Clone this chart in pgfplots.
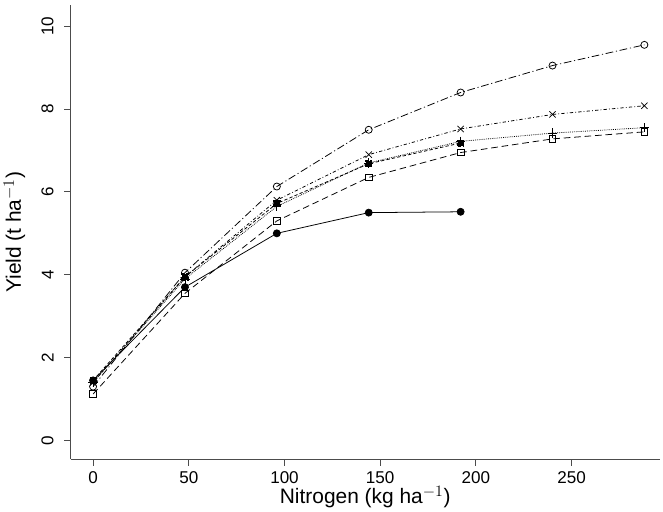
\documentclass[border=0pt]{standalone}
\usepackage{pgfplots}
\pgfplotsset{compat=1.18}
\usepackage{fontspec}
\setmainfont{Liberation Sans}
\begin{document}
\begin{tikzpicture}
\begin{axis}[
  name=ax,
  width=535pt, height=412pt, scale only axis,
  xmin=-11.7, xmax=296, ymin=-0.45, ymax=10.5,
  axis x line*=bottom, axis y line*=left,
  axis line style={-, gray!60!black, line width=0.9pt},
  xtick={0,50,...,250}, ytick={0,2,...,10},
  tick align=outside, tick style={gray!60!black, line width=0.9pt},
  major tick length=6pt,
  ticklabel style={font=\fontsize{15.5}{16}\selectfont},
  yticklabel style={rotate=90, anchor=south},
  yticklabel shift={6pt},
  xticklabel style={yshift=-2pt},
  /pgf/number format/assume math mode=true,
  xlabel={Nitrogen (kg ha$^{-1}$)}, ylabel={Yield (t ha$^{-1}$)},
  label style={font=\fontsize{19}{19}\selectfont},
  xlabel style={yshift=5pt}, ylabel style={yshift=8pt},
  every axis plot/.append style={black, line width=0.7pt, mark size=3.2pt},
]
\addplot[solid, mark=*] coordinates {(0,1.45)(48,3.7)(96,5.0)(144,5.5)(192,5.52)};
\addplot[densely dashed, mark=square*, mark size=2.8pt] coordinates {(0,1.45)(48,3.95)(96,5.72)(144,6.68)(192,7.18)};
\addplot[densely dotted, mark=+, mark size=4.2pt, mark options={solid}] coordinates {(0,1.4)(48,3.9)(96,5.65)(144,6.7)(192,7.22)(240,7.42)(288,7.55)};
\addplot[dash dot, mark=x, mark size=4pt, mark options={solid}] coordinates {(0,1.4)(48,3.95)(96,5.8)(144,6.9)(192,7.52)(240,7.87)(288,8.08)};
\addplot[dash pattern=on 7pt off 2.5pt on 1pt off 2.5pt, mark=o, mark options={solid}] coordinates {(0,1.3)(48,4.05)(96,6.13)(144,7.5)(192,8.4)(240,9.05)(288,9.55)};
\addplot[dash pattern=on 6pt off 3.5pt, mark=square, mark size=3pt, mark options={solid}] coordinates {(0,1.12)(48,3.55)(96,5.3)(144,6.35)(192,6.95)(240,7.28)(288,7.45)};
\end{axis}
\path (ax.north east) ++(3pt,5pt) coordinate (pad);
\end{tikzpicture}
\end{document}
